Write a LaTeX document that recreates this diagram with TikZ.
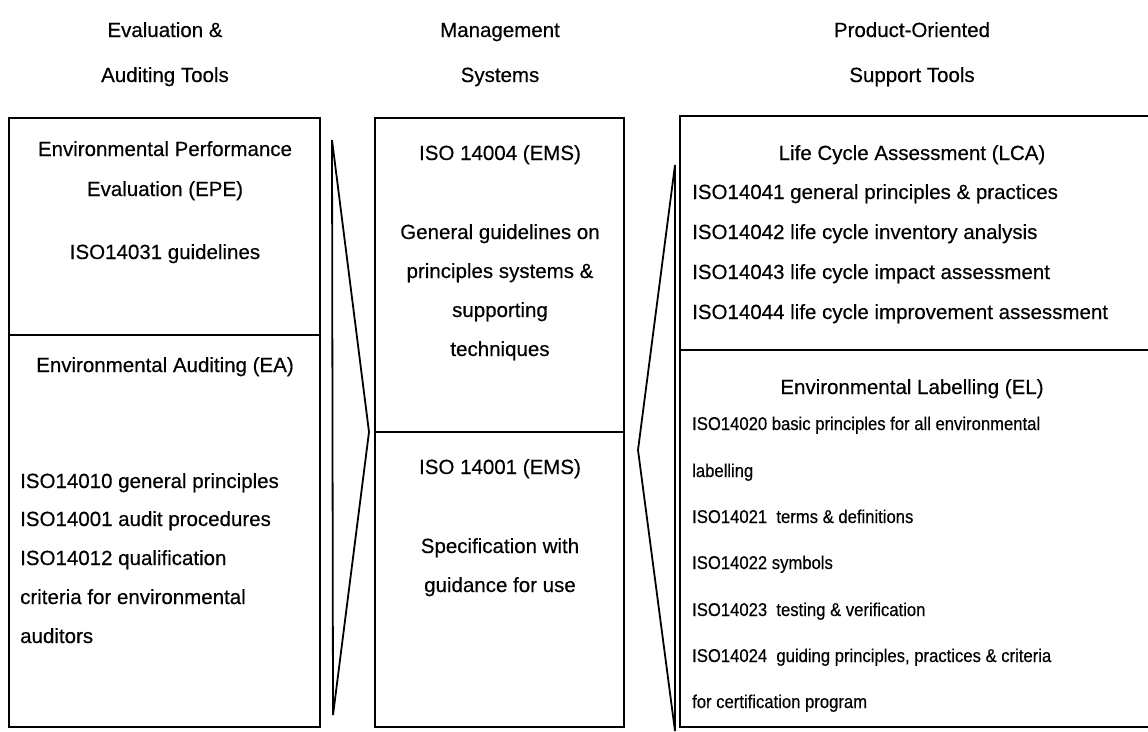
\documentclass[tikz,border=0pt]{standalone}
\usepackage{fontspec}
\setmainfont[FakeBold=0.4]{Liberation Sans}
\newfontfamily\narrowfont[FakeStretch=0.9,FakeBold=0.4]{Liberation Sans}
\begin{document}
\begin{tikzpicture}[x=1pt,y=-1pt,
  frame/.style={line width=2pt},
  wedge/.style={line width=1.8pt, line join=miter},
  txt/.style={font=\fontsize{20.5}{24}\selectfont, inner sep=0pt, anchor=base},
  ltxt/.style={txt, anchor=base west},
  stxt/.style={font=\narrowfont\fontsize{18.5}{22}\selectfont, inner sep=0pt, anchor=base west}
]
\useasboundingbox (0,0) rectangle (1148,731);

% column headings
\node[txt] (h1a) at (165,37) {Evaluation \&};
\node[txt] (h1b) at (165,82) {Auditing Tools};
\node[txt] (h2a) at (500,37) {Management};
\node[txt] (h2b) at (500,82) {Systems};
\node[txt] (h3a) at (912,37) {Product-Oriented};
\node[txt] (h3b) at (912,82) {Support Tools};

% boxes
\draw[frame] (9,118) rectangle (320,727);
\draw[frame] (9,335) -- (320,335);
\draw[frame] (375,118) rectangle (624,727);
\draw[frame] (375,432) -- (624,432);
\draw[frame] (1160,116) -- (680,116) -- (680,727) -- (1160,727);
\draw[frame] (680,350) -- (1160,350);

% wedges between the columns
\draw[wedge] (332,140) -- (369,432) -- (333,715) -- cycle;
\draw[wedge] (675,165) -- (638,450) -- (675,731) -- cycle;

% evaluation & auditing tools
\node[txt] (epe1) at (165,156) {Environmental Performance};
\node[txt] (epe2) at (165,196) {Evaluation (EPE)};
\node[txt] (epe3) at (165,259) {ISO14031 guidelines};
\node[txt] (ea) at (165,372) {Environmental Auditing (EA)};
\node[ltxt] (ea1) at (20,488) {ISO14010 general principles};
\node[ltxt] (ea2) at (20,526) {ISO14001 audit procedures};
\node[ltxt] (ea3) at (20,565) {ISO14012 qualification};
\node[ltxt] (ea4) at (20,604) {criteria for environmental};
\node[ltxt] (ea5) at (20,643) {auditors};

% management systems
\node[txt] (ms1) at (500,160) {ISO 14004 (EMS)};
\node[txt] (ms2) at (500,239) {General guidelines on};
\node[txt] (ms3) at (500,278) {principles systems \&};
\node[txt] (ms4) at (500,317) {supporting};
\node[txt] (ms5) at (500,356) {techniques};
\node[txt] (ms6) at (500,474) {ISO 14001 (EMS)};
\node[txt] (ms7) at (500,553) {Specification with};
\node[txt] (ms8) at (500,592) {guidance for use};

% product-oriented support tools
\node[txt] (lca) at (912,160) {Life Cycle Assessment (LCA)};
\node[ltxt] (lca1) at (692,199) {ISO14041 general principles \& practices};
\node[ltxt] (lca2) at (692,239) {ISO14042 life cycle inventory analysis};
\node[ltxt] (lca3) at (692,279) {ISO14043 life cycle impact assessment};
\node[ltxt] (lca4) at (692,319) {ISO14044 life cycle improvement assessment};
\node[txt] (el) at (912,394) {Environmental Labelling (EL)};
\node[stxt] (el1) at (692,430) {ISO14020 basic principles for all environmental};
\node[stxt] (el2) at (692,477) {labelling};
\node[stxt] (el3) at (692,523) {ISO14021\ \ terms \& definitions};
\node[stxt] (el4) at (692,569) {ISO14022 symbols};
\node[stxt] (el5) at (692,616) {ISO14023\ \ testing \& verification};
\node[stxt] (el6) at (692,662) {ISO14024\ \ guiding principles, practices \& criteria};
\node[stxt] (el7) at (692,708) {for certification program};
\end{tikzpicture}
\end{document}
